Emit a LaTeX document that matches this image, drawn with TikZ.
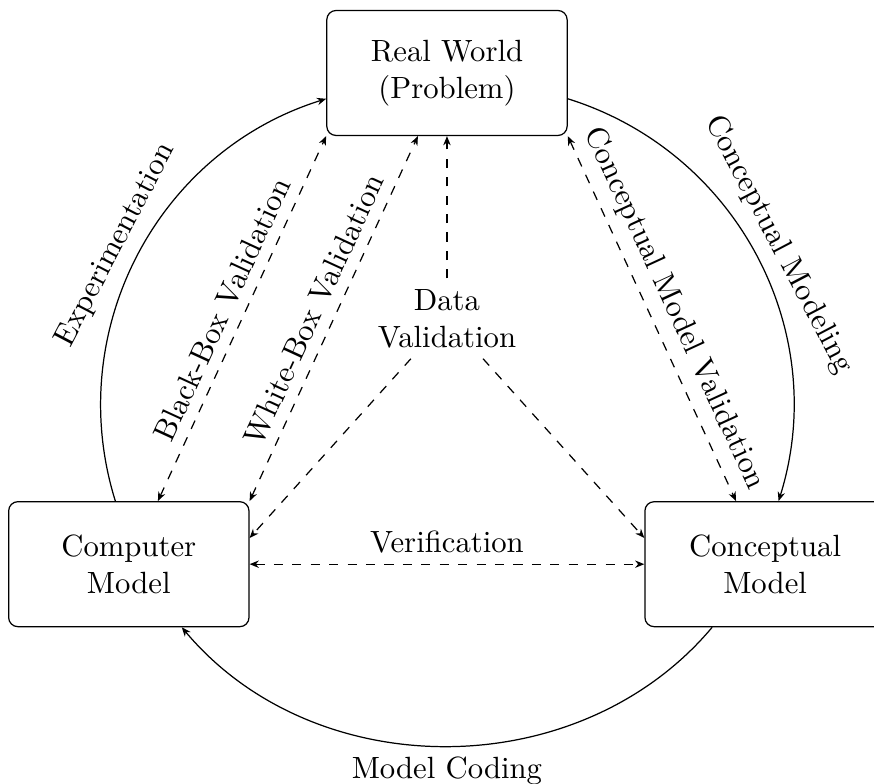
\documentclass[tikz,border=0pt]{standalone}
\usepackage{tikz}
\usetikzlibrary{arrows.meta, positioning}

\begin{document}
\begin{tikzpicture}[
    stage/.style={draw, rounded corners=3pt, align=center, minimum width=2.75cm, minimum height=1.43cm},
    flow/.style={-{Stealth[length=3pt, width=2.4pt]}},
    check/.style={dashed, {Stealth[length=3pt, width=2.4pt]}-{Stealth[length=3pt, width=2.4pt]}}
]
    % Fixed frame (right box runs off the edge)
    \useasboundingbox (-5.114, 0.835) rectangle (4.886, -8.135);

    % Stages
    \node[stage] (real) at (0, 0) {Real World\\(Problem)};
    \node[stage] (computer) at (-3.64, -5.62) {Computer\\Model};
    \node[stage] (concept) at (3.64, -5.62) {Conceptual\\Model};
    \node[align=center] (datacheck) at (0, -2.81) {Data\\Validation};

    % Solid cycle
    \draw[flow] (computer) to[bend left=45] node[sloped, above] {Experimentation} (real);
    \draw[flow] (real) to[bend left=45] node[sloped, above] {Conceptual Modeling} (concept);
    \draw[flow] (concept) to[bend left=50] node[below] {Model Coding} (computer);

    % Validation
    \draw[check] (computer) -- node[sloped, above] {Black-Box Validation} (real.south west);
    \draw[check] (computer.north east) -- node[sloped, above] {White-Box Validation} (real);
    \draw[check] (real.south east) -- node[sloped, above] {Conceptual Model Validation} (concept);
    \draw[flow, dashed] (datacheck) -- (real);
    \draw[flow, dashed] (datacheck) -- ([yshift=3mm]computer.east);
    \draw[flow, dashed] (datacheck) -- ([yshift=3mm]concept.west);

    % Verification
    \draw[check] (computer) -- node[above] {Verification} (concept);
\end{tikzpicture}
\end{document}
